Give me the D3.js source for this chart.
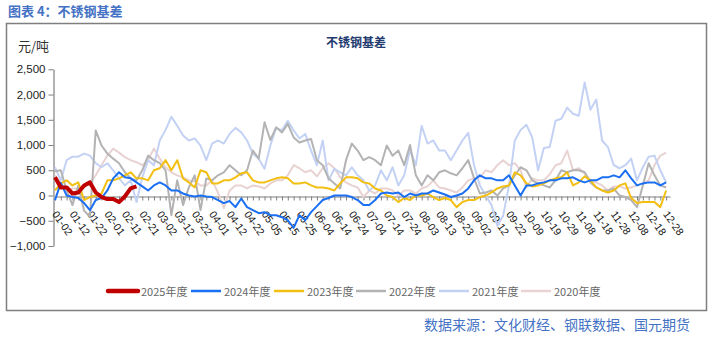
<!DOCTYPE html>
<html>
<head>
<meta charset="utf-8">
<script src="https://cdn.jsdelivr.net/npm/d3@7/dist/d3.min.js"></script>
<style>
  html, body { margin: 0; padding: 0; background: #fff; }
  svg { display: block; }
</style>
</head>
<body>
<svg id="chart" width="714" height="338"></svg>
<script>
// Stainless steel basis (元/吨) by calendar position, one line per year.
// Category axis: one category per date slot, a label every 9 slots,
// a tick mark every 3 slots; stored observations are taken every 3 slots.
const categoryLabels = [
  "01-02","01-12","01-22","02-01","02-11","02-21","03-02","03-12","03-22",
  "04-01","04-12","04-22","05-05","05-15","05-25","06-04","06-14","06-24",
  "07-04","07-14","07-24","08-03","08-13","08-23","09-02","09-12","09-22",
  "10-09","10-19","10-29","11-08","11-18","11-28","12-08","12-18","12-28"
];
const labelStep = 9;
const sampleStep = 3;
const lastCategory = 317;

const yTicks = [-1000, -500, 0, 500, 1000, 1500, 2000, 2500];
const yDomain = [-1000, 2500];

const seriesNames = ["2025年度", "2024年度", "2023年度", "2022年度", "2021年度", "2020年度"];

const basis2025 = [360,160,160,40,60,200,260,60,-30,-70,-70,-130,-20,140,180];

const basis2024 = [
  -90,250,0,-30,-50,-150,-290,-90,-50,100,
  340,460,360,340,260,180,100,200,260,200,
  100,100,40,0,-20,0,-20,-30,-90,-150,
  -110,-230,-60,-230,-290,-350,-330,-390,-390,-430,
  -490,-640,-390,-490,-330,-210,-90,-50,0,0,
  0,-30,-90,-190,-190,-90,40,60,40,60,
  -30,40,0,40,40,100,60,20,-30,0,
  40,140,300,400,340,340,300,300,400,200,
  0,200,200,240,260,300,300,340,340,360,
  300,260,300,300,360,360,400,360,500,340,
  200,240,260,260,200,260
];

const basis2023 = [
  100,240,300,200,260,-90,-30,0,40,300,
  300,340,400,460,340,340,300,500,540,700,
  500,700,340,260,160,500,460,240,240,300,
  300,360,440,460,300,260,260,300,340,360,
  340,240,240,260,200,160,160,140,100,240,
  360,360,340,260,240,140,100,0,-30,-130,
  -50,-90,0,0,40,-30,-90,-50,-90,-230,
  -130,-90,-90,-30,0,60,140,180,200,460,
  400,240,180,200,240,300,340,360,460,200,
  260,380,300,160,100,60,100,200,240,-50,
  -150,-130,-130,-130,-230,100
];

const basis2022 = [
  480,500,100,-190,200,-300,-420,1290,990,830,
  730,640,460,340,300,500,790,700,640,500,
  -390,300,-190,160,400,-290,340,300,400,460,
  600,500,400,500,890,730,1450,1100,1350,1250,
  1420,1150,1050,1090,1120,700,600,340,240,140,
  700,1030,890,700,760,700,600,990,790,890,
  600,1000,400,200,400,300,460,500,440,400,
  540,700,340,40,60,100,0,140,200,400,
  560,500,300,240,200,160,300,500,460,500,
  500,460,260,160,100,100,140,0,-30,-90,
  -230,200,640,400,200,160
];

const basis2021 = [
  560,300,700,770,770,830,790,640,560,640,
  500,340,200,300,-130,360,700,600,1090,1300,
  1560,1380,1190,1090,1130,990,700,1030,1090,1030,
  1220,1340,1250,1090,830,730,530,990,1340,1290,
  1480,1290,1130,1220,890,600,1090,300,530,460,
  400,560,400,300,100,200,500,300,560,200,
  400,900,600,1380,1030,1090,890,890,700,890,
  1090,1240,600,200,0,-190,-600,-400,200,1090,
  1300,1400,1150,500,940,960,1480,1520,1740,1620,
  1580,2240,1700,1900,1090,960,600,540,600,730,
  300,560,770,790,500,260
];

const basis2020 = [
  400,240,100,140,140,160,260,400,600,790,
  930,850,760,700,660,600,700,930,730,560,
  460,400,360,300,280,200,200,300,60,-250,
  100,200,200,140,200,180,140,240,300,300,
  400,600,540,460,500,380,540,640,540,360,
  260,200,160,-30,100,40,140,140,100,0,
  100,100,40,140,180,300,160,140,100,60,
  160,300,340,360,500,460,600,700,600,640,
  500,160,340,300,300,420,600,640,890,500,
  540,440,300,260,200,100,180,180,140,160,
  200,240,300,600,790,850
];

// Series table built from the arrays above (drawing order: oldest underneath).
const seriesValues = [basis2025, basis2024, basis2023, basis2022, basis2021, basis2020];
const seriesColors = ["#c00000", "#1a6ff2", "#f2bf12", "#b3b3b3", "#c3d2f4", "#e9d2d2"];
const seriesWidths = [4, 2, 2, 2, 2, 2];
const series = seriesNames.map((name, i) => ({
  name, color: seriesColors[i], width: seriesWidths[i],
  points: seriesValues[i].map((v, j) => ({ cat: j * sampleStep, value: v }))
}));

const svg = d3.select("#chart");
const latin = "'Liberation Sans', Arial, sans-serif";
const cjk = "'Noto Sans CJK SC', 'Liberation Sans', sans-serif";

// Outer frame
svg.append("rect")
  .attr("x", 6.5).attr("y", 23.5).attr("width", 700).attr("height", 287)
  .attr("fill", "#fff").attr("stroke", "#7f7f7f").attr("stroke-width", 1.5);

// Figure caption above the frame
svg.append("text")
  .attr("x", 8).attr("y", 16)
  .attr("font-family", cjk).attr("font-size", 13).attr("font-weight", "bold")
  .attr("fill", "#4472c4")
  .text("图表 4：不锈钢基差");

// Chart title
svg.append("text")
  .attr("x", 356).attr("y", 47).attr("text-anchor", "middle")
  .attr("font-family", cjk).attr("font-size", 12).attr("font-weight", "bold")
  .attr("fill", "#1f3b70")
  .text("不锈钢基差");

// Unit label
svg.append("text")
  .attr("x", 18).attr("y", 51)
  .attr("font-family", cjk).attr("font-size", 13).attr("fill", "#333")
  .text("元/吨");

const x = d3.scaleLinear().domain([0, lastCategory]).range([55, 670]);
const y = d3.scaleLinear().domain(yDomain).range([246, 69.3]);

// Y axis
const yAxis = svg.append("g")
  .attr("transform", "translate(53.5,0)")
  .call(d3.axisLeft(y).tickValues(yTicks).tickSize(5).tickSizeOuter(0).tickPadding(3));
yAxis.select(".domain").attr("stroke", "#7f7f7f").attr("stroke-width", 1.2);
yAxis.selectAll(".tick line").attr("stroke", "#7f7f7f");
yAxis.selectAll(".tick text")
  .attr("font-family", latin).attr("font-size", 11.5).attr("fill", "#222");

// Category axis along the zero line
const tickCats = d3.range(0, lastCategory, sampleStep);
const xAxisG = svg.append("g").attr("transform", `translate(0,${Math.round(y(0)) + 0.5})`);
xAxisG.call(d3.axisBottom(x).tickValues(tickCats).tickSize(4).tickSizeOuter(0).tickFormat(""));
xAxisG.select(".domain").attr("stroke", "#7f7f7f").attr("stroke-width", 1.2);
xAxisG.selectAll(".tick line").attr("stroke", "#7f7f7f");

// Rotated date labels
svg.append("g").selectAll("text")
  .data(categoryLabels)
  .join("text")
  .attr("transform", (d, i) => `translate(${x(i * labelStep)},212) rotate(55)`)
  .attr("dominant-baseline", "central")
  .attr("font-family", latin).attr("font-size", 10.5).attr("fill", "#111")
  .text(d => d);

// Lines
const line = d3.line().x(d => x(d.cat)).y(d => y(d.value));
svg.append("g").selectAll("path")
  .data(series.slice().reverse())
  .join("path")
  .attr("d", d => line(d.points))
  .attr("fill", "none")
  .attr("stroke", d => d.color)
  .attr("stroke-width", d => d.width)
  .attr("stroke-linejoin", "round");

// Legend
const legendX = [108, 191, 274, 356, 439, 521];
const legend = svg.append("g").selectAll("g")
  .data(series)
  .join("g")
  .attr("transform", (d, i) => `translate(${legendX[i]},291)`);
legend.append("line")
  .attr("x1", 0).attr("x2", 30).attr("y1", 0).attr("y2", 0)
  .attr("stroke", d => d.color).attr("stroke-width", d => d.width + 0.5)
  .attr("stroke-linecap", d => d.width > 2 ? "round" : "butt");
legend.append("text")
  .attr("x", 33).attr("y", 0).attr("dominant-baseline", "central")
  .attr("font-family", cjk).attr("font-size", 11).attr("fill", "#666")
  .text(d => d.name);

// Source note
svg.append("text")
  .attr("x", 690).attr("y", 330).attr("text-anchor", "end")
  .attr("font-family", cjk).attr("font-size", 14).attr("fill", "#4472c4")
  .text("数据来源：文化财经、钢联数据、国元期货");
</script>
</body>
</html>
